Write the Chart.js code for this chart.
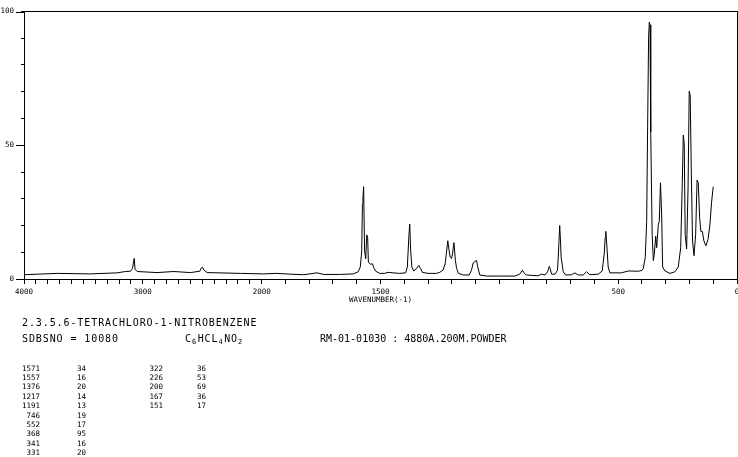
<!DOCTYPE html>
<html>
<head>
<meta charset="utf-8">
<script src="https://cdn.jsdelivr.net/npm/chart.js@4.4.0/dist/chart.umd.min.js"></script>
<style>
    html, body { margin: 0; padding: 0; background: #fff; }
    #wrap { position: relative; width: 738px; height: 457px; overflow: hidden; }
    #chart { position: absolute; left: 0; top: 0; }
    .txt { position: absolute; font-family: 'DejaVu Sans Mono', monospace; color: #000; white-space: pre; line-height: 1; }
    .big { font-size: 10px; letter-spacing: 0.9px; }
    .small { font-size: 7.5px; }
    .num { text-align: right; width: 30px; }
    .sub { font-size: 7px; position: relative; top: 2px; letter-spacing: 1.5px; }
</style>
</head>
<body>
<div id="wrap">
    <canvas id="chart" width="738" height="457"></canvas>
    <div class="txt big" style="left:22px; top:318px;">2.3.5.6-TETRACHLORO-1-NITROBENZENE</div>
    <div class="txt big" style="left:22px; top:334px;">SDBSNO = 10080</div>
    <div class="txt big" style="left:185px; top:334px;">C<span class="sub">6</span>HCL<span class="sub">4</span>NO<span class="sub">2</span></div>
    <div class="txt big" style="left:320px; top:334px; letter-spacing:0;">RM-01-01030 : 4880A.200M.POWDER</div>
    <div id="peaks"></div>
</div>
<script>
// Raman spectrum, wavenumber (cm-1) vs intensity
const wavenumbers = [
    4000, 3888, 3720, 3440, 3216, 3146, 3104, 3087, 3078, 3073, 3065, 3048,
    2880, 2740, 2599, 2521, 2507, 2498, 2487, 2459, 2179,
    1992, 1936, 1879, 1823, 1767, 1739, 1672, 1615, 1594, 1585,
    1579, 1576, 1574, 1571, 1567, 1562, 1558, 1554, 1551, 1543, 1534, 1528, 1520,
    1503, 1482, 1468, 1447, 1419, 1394, 1387, 1381, 1377, 1373, 1368, 1360,
    1349, 1339, 1332, 1324, 1300, 1265, 1251, 1237, 1228, 1223, 1217, 1211,
    1207, 1201, 1197, 1191, 1185, 1180, 1172, 1152, 1127, 1117, 1110, 1103,
    1096, 1091, 1082, 1054, 998, 935, 914, 903, 895, 886, 837, 823, 808,
    797, 790, 786, 780, 766, 755, 749, 746, 743, 740, 731, 721, 696, 682,
    668, 647, 633, 619, 584, 567, 558, 555, 552, 548, 542, 535, 486, 458,
    415, 400, 394, 386, 380, 376, 372, 369, 366, 363, 357, 352, 348, 342,
    338, 331, 327, 322, 317, 313, 303, 282, 261, 247, 237, 230, 226, 222,
    218, 212, 206, 201, 197, 192, 187, 181, 174, 168, 163, 157, 152, 146,
    139, 131, 122, 114, 107, 100
];
const intensities = [
    1.6, 1.8, 2.1, 1.9, 2.3, 2.8, 2.9, 3.9, 6.3, 7.7, 3.6, 2.8,
    2.4, 2.8, 2.4, 2.9, 4.2, 4.4, 3.4, 2.4, 2.1,
    1.9, 2.1, 1.8, 1.6, 2.3, 1.7, 1.7, 1.9, 2.7, 4.5,
    10.5, 28, 30, 34.5, 10.5, 7.6, 16.5, 15.4, 6.3, 5.5, 5.7, 4.2, 2.9,
    2.1, 2.1, 2.5, 2.3, 2.1, 2.3, 4.5, 15.4, 20.5, 10.5, 4.5, 3.0,
    3.8, 5.1, 4.0, 2.5, 2.1, 2.1, 2.5, 3.3, 5.7, 9.4, 14.3, 10.5,
    8.2, 7.7, 9.4, 13.6, 7.0, 4.0, 2.1, 1.5, 1.5, 3.3, 6.0, 6.5,
    6.9, 4.5, 1.5, 1.1, 1.1, 1.1, 1.8, 3.3, 2.1, 1.5, 1.2, 1.8, 1.5,
    2.7, 4.7, 3.9, 1.8, 1.8, 3.3, 14, 20, 15, 8.1, 2.7, 1.5, 1.6, 2.3,
    1.5, 1.5, 2.7, 1.6, 1.8, 3.0, 10, 15.4, 17.8, 13, 4.5, 2.3, 2.3, 3.0,
    2.9, 3.2, 4.0, 8.1, 21.5, 57, 90, 96, 95, 55, 16.7, 6.9, 9.3, 16,
    11.7, 20.4, 21.5, 36, 23.9, 4.5, 3.0, 2.1, 2.7, 4.5, 11.7, 36.6, 53.8, 50.5,
    16.7, 11.2, 33.6, 70.2, 68.7, 38.5, 14.2, 8.7, 16.7, 37, 36, 22.7, 17.8, 17.8,
    14.2, 12.4, 14.8, 20.2, 28.7, 34.5
];

// peak table
const peakWn  = [1571, 1557, 1376, 1217, 1191, 746, 552, 368, 341, 331, 322, 226, 200, 167, 151];
const peakInt = [34, 16, 20, 14, 13, 19, 17, 95, 16, 20, 36, 53, 69, 36, 17];

const xLabels = [4000, 3000, 2000, 1500, 500, 0];
const yLabels = [0, 50, 100];

// the wavenumber axis is compressed by 2 above 2000
function toAxis(wn) { return wn > 2000 ? 2000 + (wn - 2000) / 2 : wn; }
function fromAxis(u) { return u > 2000 ? 2000 + (u - 2000) * 2 : u; }

const xTicks = [];
for (let w = 0; w <= 4000; w += 100) xTicks.push(w);

Chart.defaults.font.family = "'DejaVu Sans Mono', monospace";
Chart.defaults.font.size = 7.5;
Chart.defaults.color = '#000';

const majorTicks = {
    id: 'majorTicks',
    afterDraw(chart) {
        const ctx = chart.ctx;
        const y = chart.scales.y;
        ctx.save();
        ctx.strokeStyle = '#000';
        ctx.lineWidth = 1;
        yLabels.forEach(v => {
            const py = Math.round(y.getPixelForValue(v)) + 0.5;
            ctx.beginPath();
            ctx.moveTo(16, py);
            ctx.lineTo(chart.chartArea.left, py);
            ctx.stroke();
        });
        ctx.restore();
    }
};

new Chart(document.getElementById('chart').getContext('2d'), {
    type: 'line',
    data: {
        datasets: [{
            data: wavenumbers.map((w, i) => ({ x: toAxis(w), y: intensities[i] })),
            borderColor: '#000',
            borderWidth: 1,
            pointRadius: 0,
            tension: 0,
            fill: false
        }]
    },
    options: {
        responsive: false,
        animation: false,
        layout: { padding: { top: 4, right: 1, left: 0, bottom: 150 } },
        plugins: { legend: { display: false }, tooltip: { enabled: false } },
        scales: {
            x: {
                type: 'linear',
                min: 0,
                max: 3000,
                reverse: true,
                afterBuildTicks: s => { s.ticks = xTicks.map(w => ({ value: toAxis(w) })); },
                afterFit: s => { s.height = 28; },
                ticks: {
                    autoSkip: false,
                    maxRotation: 0,
                    minRotation: 0,
                    padding: 4,
                    callback: v => {
                        const w = Math.round(fromAxis(v));
                        return xLabels.includes(w) ? String(w) : '';
                    }
                },
                grid: { drawOnChartArea: false, tickLength: 5, tickColor: '#000' },
                border: { display: true, color: '#000', width: 1 },
                title: { display: true, text: 'WAVENUMBER(-1)', padding: { top: 0, bottom: 2 } }
            },
            y: {
                min: 0,
                max: 100,
                afterFit: s => { s.width = 24; },
                ticks: {
                    stepSize: 10,
                    padding: 7,
                    callback: v => (yLabels.includes(v) ? String(v) : '')
                },
                grid: { drawOnChartArea: false, tickLength: 3, tickColor: '#000' },
                border: { display: true, color: '#000', width: 1 }
            },
            x2: {
                position: 'top',
                display: true,
                afterFit: s => { s.height = 0; },
                ticks: { display: false },
                grid: { display: false },
                border: { display: true, color: '#000', width: 1 }
            },
            y2: {
                position: 'right',
                display: true,
                afterFit: s => { s.width = 0; },
                ticks: { display: false },
                grid: { display: false },
                border: { display: true, color: '#000', width: 1 }
            }
        }
    },
    plugins: [majorTicks]
});

// peak list below the chart
const peaksEl = document.getElementById('peaks');
let html = '';
peakWn.forEach((w, i) => {
    const col = i < 10 ? 0 : 1;
    const row = col === 0 ? i : i - 10;
    const top = 364.5 + row * 9.4;
    const numRight = col === 0 ? 40 : 163;
    const intLeft = col === 0 ? 77 : 197;
    html += `<div class="txt small num" style="left:${numRight - 30}px; top:${top}px;">${w}</div>`;
    html += `<div class="txt small" style="left:${intLeft}px; top:${top}px;">${peakInt[i]}</div>`;
});
peaksEl.innerHTML = html;
</script>
</body>
</html>
